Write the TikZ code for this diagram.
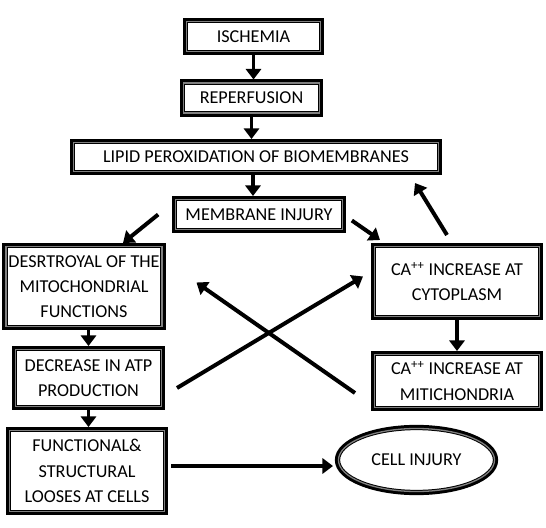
\documentclass[tikz,border=0pt]{standalone}
\usepackage{fontspec}
\setmainfont{Carlito}
\usetikzlibrary{positioning,shapes.geometric,arrows.meta,calc}

\begin{document}
\begin{tikzpicture}[x=0.03cm, y=-0.03cm,
  boxed/.style={rectangle, draw=black, line width=0.85pt, double=black!50, double distance=1.1pt, fill=white,
    preaction={draw=black, line width=6.2pt}, outer sep=3pt,
    align=center, inner sep=2pt, font=\fontsize{15.5}{21.5}\selectfont},
  oval/.style={boxed, ellipse},
  arr/.style={-{Triangle[length=9pt,width=13pt]}, line width=3.4pt},
]
\useasboundingbox (0,0) rectangle (546,528);

\node(isc) [boxed, minimum width=4.02cm, minimum height=0.9cm] at (253.5,36.5){ISCHEMIA};
\node(rep) [boxed, minimum width=4.08cm, minimum height=0.9cm] at (251.5,98){REPERFUSION};
\node(lip) [boxed, minimum width=10.95cm, minimum height=0.87cm] at (256,157){LIPID PEROXIDATION OF BIOMEMBRANES};
\node(mem) [boxed, minimum width=5cm, minimum height=0.9cm] at (259,214.5){MEMBRANE INJURY};
\node(des) [boxed, minimum width=4.59cm, minimum height=2.4cm] at (84,286.5){DESRTROYAL OF THE\\MITOCHONDRIAL\\FUNCTIONS};
\node(cyt) [boxed, minimum width=4.95cm, minimum height=2.1cm] at (457,281.5){CA\textsuperscript{++} INCREASE AT\\CYTOPLASM};
\node(atp) [boxed, minimum width=4.38cm, minimum height=1.71cm] at (88.5,378){DECREASE IN ATP\\PRODUCTION};
\node(mit) [boxed, minimum width=4.95cm, minimum height=1.59cm] at (457,381){CA\textsuperscript{++} INCREASE AT\\MITICHONDRIA};
\node(fun) [boxed, minimum width=4.65cm, minimum height=2.43cm] at (87,471){FUNCTIONAL\&\\STRUCTURAL\\LOOSES AT CELLS};
\node(inj) [oval, minimum width=4.68cm, minimum height=1.89cm] at (416.5,460){CELL INJURY};

\draw[arr] (isc.south) -- (isc.south |- rep.north);
\draw[arr] (rep.south) -- (rep.south |- lip.north);
\draw[arr] ($(lip.south)+(-3,0)$) -- ($(lip.south |- mem.north)+(-3,0)$);
\draw[arr] ($(mem.west)+(-14,0)$) -- ($(des.north)+(39,0)$);
\draw[arr] ($(mem.east)+(6,6)$) -- ($(cyt.north west)+(9,-3)$);
\draw[arr] ($(cyt.north)+(-10,-8)$) -- ($(lip.south east)+(-27,8)$);

\draw[arr] (atp.north |- des.south) -- (atp.north);
\draw[arr] (atp.south) -- (atp.south |- fun.north);
\draw[arr] (cyt.south) -- (cyt.south |- mit.north);

\draw[arr] ($(atp.east)+(12,10)$) -- ($(cyt.west)+(-8,-5)$);
\draw[arr] ($(mit.west)+(-16,12)$) -- ($(des.east)+(31,-4)$);

\draw[arr] ($(fun.east)+(3,-5)$) -- ($(inj.west)+(-2,6)$);

\end{tikzpicture}
\end{document}
